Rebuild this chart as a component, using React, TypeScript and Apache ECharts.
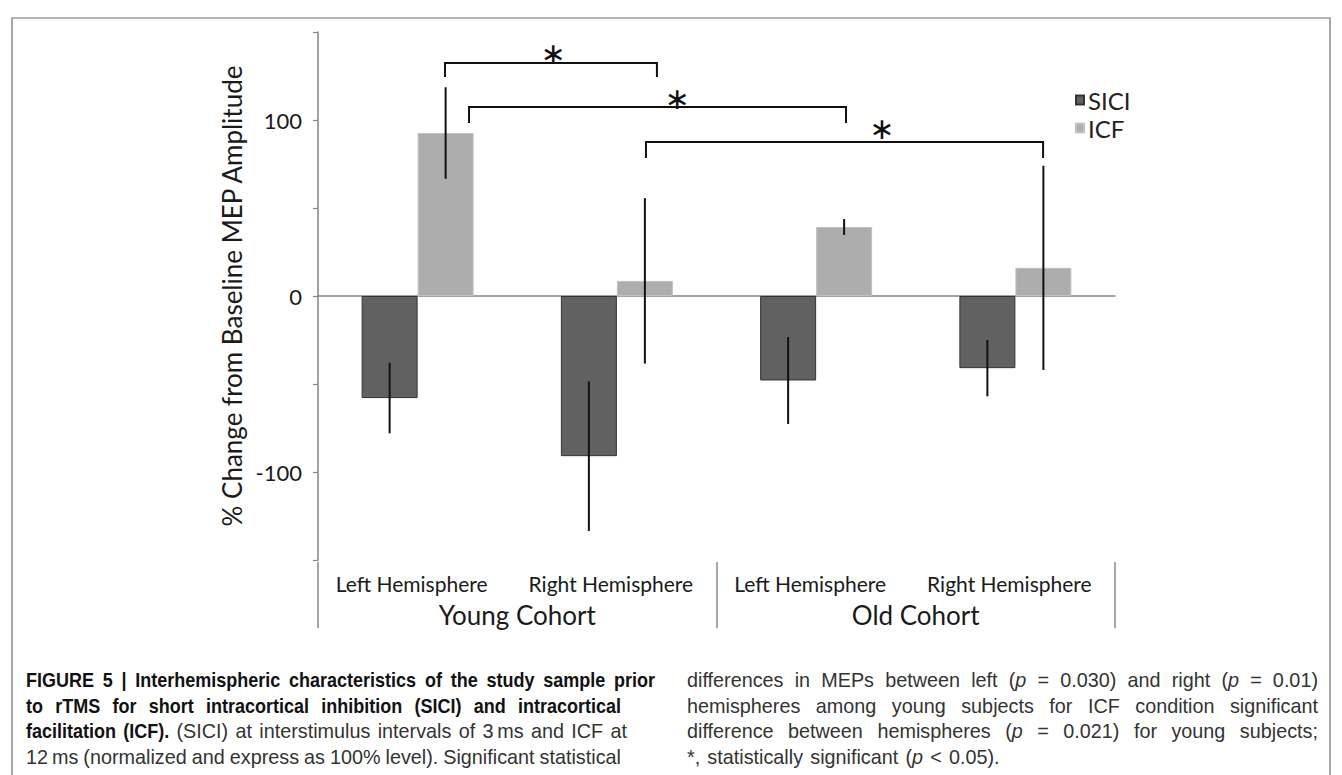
import React, { useEffect, useRef } from 'react';
import * as echarts from 'echarts';

// ---------- data ----------
const hemispheres = ['Left Hemisphere', 'Right Hemisphere', 'Left Hemisphere', 'Right Hemisphere'];
const cohorts = ['Young Cohort', 'Old Cohort'];
const seriesNames = ['SICI', 'ICF'];
const siciValues = [-58, -91, -48, -41];
const siciErrors = [20, 42.5, 24.7, 16];
const icfValues = [92.6, 8.6, 39.2, 16];
const icfErrors = [26, 47, 4.5, 58];
const yLabeledTicks = [100, 0, -100];

// significance brackets (category index + fraction of a category band)
const bracketStartCat = [0, 0, 1];
const bracketStartOff = [0.1375, 0.258, 0.146];
const bracketEndCat = [1, 2, 3];
const bracketEndOff = [0.201, 0.15, 0.139];
const bracketTop = [132.4, 107.4, 87.5];
const bracketDrop = [124.4, 98.3, 78.4];
const starCat = [0, 1, 2];
const starOff = [0.68, 0.302, 0.33];
const starLevel = [138, 112.5, 95];

// caption
type Seg = [string, string];
const captionLeft: Seg[][] = [
  [['b', 'FIGURE 5 | Interhemispheric characteristics of the study sample prior']],
  [['b', 'to rTMS for short intracortical inhibition (SICI) and intracortical']],
  [['b', 'facilitation (ICF).'], ['r', ' (SICI) at interstimulus intervals of 3\u2009ms and ICF at']],
  [['r', '12\u2009ms (normalized and express as 100% level). Significant statistical']],
];
const captionRight: Seg[][] = [
  [['r', 'differences in MEPs between left ('], ['i', 'p'], ['r', ' = 0.030) and right ('], ['i', 'p'], ['r', ' = 0.01)']],
  [['r', 'hemispheres among young subjects for ICF condition significant']],
  [['r', 'difference between hemispheres ('], ['i', 'p'], ['r', ' = 0.021) for young subjects;']],
  [['r', '*, statistically significant ('], ['i', 'p'], ['r', ' < 0.05).']],
];

// ---------- layout ----------
const FONT = 'Lato, "DejaVu Sans", sans-serif';
const CAP_FONT = '"Liberation Sans", Arial, sans-serif';
const CAP_SIZE = 20;
const CAP_SCALE: Record<string, number> = { b: 0.9, r: 0.99, i: 0.99 };
const BAR_W = 56;
const leftX0 = 26;
const leftEnds = [655, 621, 627, 621];
const rightX0 = 687;
const rightEnds = [1318, 1318, 1318, 0];
const lineY = [680, 706, 731, 757];

function buildCaption(): any[] {
  const canvas = document.createElement('canvas');
  const ctx = canvas.getContext('2d') as CanvasRenderingContext2D;
  const weight = (s: string) => (s === 'b' ? 'bold' : 'normal');
  const fstyle = (s: string) => (s === 'i' ? 'italic' : 'normal');
  const measure = (s: string, t: string) => {
    ctx.font = `${fstyle(s)} ${weight(s)} ${CAP_SIZE}px ${CAP_FONT}`;
    return ctx.measureText(t).width * CAP_SCALE[s];
  };
  const els: any[] = [];
  const doLine = (segs: Seg[], x0: number, x1: number, y: number) => {
    const words: Seg[][] = [[]];
    segs.forEach(([s, t]) => {
      t.split(' ').forEach((part, i) => {
        if (i > 0) words.push([]);
        if (part) words[words.length - 1].push([s, part]);
      });
    });
    const ws = words.filter((w) => w.length > 0);
    const widths = ws.map((w) => w.reduce((a, [s, t]) => a + measure(s, t), 0));
    const total = widths.reduce((a, b) => a + b, 0);
    const justify = x1 > 0 && ws.length > 1;
    const gap = justify ? (x1 - x0 - total) / (ws.length - 1) : measure('r', ' ') * 1.3;
    let x = x0;
    ws.forEach((w) => {
      w.forEach(([s, t]) => {
        els.push({
          type: 'text',
          x,
          y,
          scaleX: CAP_SCALE[s],
          silent: true,
          style: {
            text: t,
            fontSize: CAP_SIZE,
            fontFamily: CAP_FONT,
            fontWeight: weight(s),
            fontStyle: fstyle(s),
            fill: s === 'b' ? '#111' : '#333',
            verticalAlign: 'middle',
            align: 'left',
          },
        });
        x += measure(s, t);
      });
      x += gap;
    });
  };
  captionLeft.forEach((segs, i) => doLine(segs, leftX0, leftEnds[i], lineY[i]));
  captionRight.forEach((segs, i) => doLine(segs, rightX0, rightEnds[i], lineY[i]));
  return els;
}

const errorSeries = (values: number[], errors: number[], sign: number) => ({
  type: 'custom',
  xAxisIndex: 0,
  yAxisIndex: 0,
  silent: true,
  z: 5,
  data: values.map((v, i) => [i, v - errors[i], v + errors[i]]),
  encode: { x: 0, y: [1, 2] },
  renderItem: (_p: any, api: any) => {
    const cat = api.value(0);
    const a = api.coord([cat, api.value(1)]);
    const b = api.coord([cat, api.value(2)]);
    const x = a[0] + (sign * BAR_W) / 2;
    return {
      type: 'line',
      shape: { x1: x, y1: a[1], x2: x, y2: b[1] },
      style: { stroke: '#111', lineWidth: 2 },
    };
  },
});

export default function App() {
  const ref = useRef<HTMLDivElement>(null);
  useEffect(() => {
    document.body.style.margin = '0';
    const chart = echarts.init(ref.current as HTMLDivElement, null, { renderer: 'svg' });
    const bracketData = bracketTop.map((t, i) => [
      bracketStartCat[i],
      bracketEndCat[i],
      t,
      bracketDrop[i],
      starLevel[i],
      starCat[i],
      bracketStartOff[i],
      bracketEndOff[i],
      starOff[i],
    ]);
    const option: any = {
      animation: false,
      backgroundColor: '#fff',
      textStyle: { fontFamily: FONT },
      legend: {
        data: seriesNames,
        orient: 'vertical',
        left: 1075,
        top: 88,
        icon: 'rect',
        itemWidth: 8,
        itemHeight: 9,
        itemGap: 4,
        padding: 0,
        selectedMode: false,
        textStyle: { fontSize: 24, color: '#222', fontFamily: FONT, padding: [0, 0, 0, -1] },
      },
      grid: { left: 318, top: 32, width: 797, height: 528, containLabel: false },
      xAxis: [
        {
          type: 'category',
          data: hemispheres,
          position: 'bottom',
          axisLine: { onZero: true, lineStyle: { color: '#858585', width: 1.5 } },
          axisTick: { show: false },
          axisLabel: { show: false },
        },
        {
          type: 'category',
          data: hemispheres,
          position: 'bottom',
          offset: 68,
          axisLine: { show: false, onZero: false },
          axisTick: { show: false },
          axisLabel: {
            inside: true,
            margin: 34,
            fontSize: 21,
            color: '#1a1a1a',
            interval: 0,
            fontFamily: FONT,
            padding: [0, 12, 0, 0],
          },
        },
        {
          type: 'category',
          data: cohorts,
          position: 'bottom',
          offset: 68,
          axisLine: { show: false, onZero: false },
          axisTick: { show: true, inside: true, length: 66, lineStyle: { color: '#8a8a8a', width: 1.5 } },
          axisLabel: { inside: true, margin: 0, fontSize: 26, color: '#1a1a1a', interval: 0, fontFamily: FONT },
        },
      ],
      yAxis: {
        type: 'value',
        min: -150,
        max: 150,
        interval: 50,
        name: '% Change from Baseline MEP Amplitude',
        nameLocation: 'middle',
        nameRotate: 90,
        nameGap: 51,
        nameTextStyle: { fontSize: 26, color: '#1a1a1a', fontFamily: FONT },
        axisLine: { show: true, lineStyle: { color: '#858585', width: 1.5 } },
        axisTick: { show: true, length: 5, lineStyle: { color: '#858585', width: 1.2 } },
        splitLine: { show: false },
        axisLabel: {
          margin: 16,
          fontSize: 22,
          color: '#1a1a1a',
          fontFamily: FONT,
          formatter: (v: number) => (yLabeledTicks.includes(v) ? String(v) : ''),
        },
      },
      series: [
        {
          name: 'SICI',
          type: 'bar',
          data: siciValues,
          barWidth: BAR_W,
          barGap: '0%',
          itemStyle: { color: '#616161', borderColor: '#333', borderWidth: 1 },
        },
        {
          name: 'ICF',
          type: 'bar',
          data: icfValues,
          barWidth: BAR_W,
          barGap: '0%',
          itemStyle: { color: '#adadad', borderColor: '#c2c2c2', borderWidth: 1 },
        },
        errorSeries(siciValues, siciErrors, -1),
        errorSeries(icfValues, icfErrors, 1),
        {
          type: 'custom',
          silent: true,
          z: 6,
          data: bracketData,
          encode: { x: [0, 1, 5], y: [2, 3, 4] },
          renderItem: (_p: any, api: any) => {
            const bw = api.size([1, 0])[0];
            const xs = api.coord([api.value(0), 0])[0] + api.value(6) * bw;
            const xe = api.coord([api.value(1), 0])[0] + api.value(7) * bw;
            const yt = api.coord([0, api.value(2)])[1];
            const yd = api.coord([0, api.value(3)])[1];
            const sx = api.coord([api.value(5), 0])[0] + api.value(8) * bw;
            const sy = api.coord([0, api.value(4)])[1];
            return {
              type: 'group',
              children: [
                {
                  type: 'polyline',
                  shape: { points: [[xs, yd], [xs, yt], [xe, yt], [xe, yd]] },
                  style: { stroke: '#111', lineWidth: 2, fill: null },
                },
                {
                  type: 'text',
                  x: sx,
                  y: sy,
                  style: {
                    text: '\u2217',
                    fontSize: 30,
                    fontFamily: '"DejaVu Sans", sans-serif',
                    fill: '#111',
                    align: 'center',
                    verticalAlign: 'middle',
                  },
                },
              ],
            };
          },
        },
      ],
      graphic: [
        {
          type: 'rect',
          silent: true,
          shape: { x: 12, y: 18, width: 1318, height: 800 },
          style: { fill: 'none', stroke: '#6e6e6e', lineWidth: 1.2 },
        },
        ...buildCaption(),
      ],
    };
    chart.setOption(option);
    return () => chart.dispose();
  }, []);
  return <div ref={ref} style={{ width: 1342, height: 775 }} />;
}
